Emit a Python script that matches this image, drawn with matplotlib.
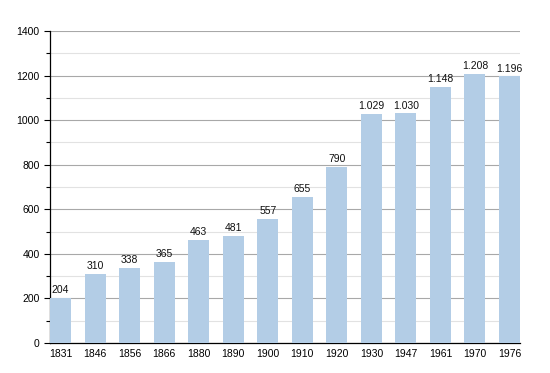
import matplotlib
matplotlib.use("Agg")
import matplotlib.pyplot as plt
from matplotlib.ticker import MultipleLocator

years = ["1831", "1846", "1856", "1866", "1880", "1890", "1900", "1910",
         "1920", "1930", "1947", "1961", "1970", "1976"]
population = [204, 310, 338, 365, 463, 481, 557, 655, 790, 1029, 1030,
              1148, 1208, 1196]
value_labels = ["204", "310", "338", "365", "463", "481", "557", "655",
                "790", "1.029", "1.030", "1.148", "1.208", "1.196"]

plt.rcParams['font.family'] = ['Liberation Sans', 'DejaVu Sans']

fig = plt.figure(figsize=(5.5, 3.73), dpi=100)
ax = fig.add_axes([50/550, 1-343/373, 470/550, 312/373])

x = list(range(len(years)))
w = 0.61
bars = ax.bar(x, population, width=w, color="#b3cde6", zorder=3)
for xi, v, lab in zip(x, population, value_labels):
    ax.text(xi, v + 12, lab, ha="center", va="bottom", fontsize=7.5, color="#111111", zorder=4)

ax.set_xlim(-w/2, len(years) - 1 + w/2)
ax.set_ylim(0, 1400)
ax.set_xticks(x)
ax.set_xticklabels(years, fontsize=7.5)
ax.yaxis.set_major_locator(MultipleLocator(200))
ax.yaxis.set_minor_locator(MultipleLocator(100))
ax.tick_params(axis="y", labelsize=7.5, length=4, width=0.8, direction="out")
ax.tick_params(axis="y", which="minor", length=3, width=0.8)
ax.tick_params(axis="x", length=0, pad=4)
ax.grid(axis="y", which="major", color="#a8a8a8", linewidth=0.8, zorder=1)
ax.grid(axis="y", which="minor", color="#e2e2e2", linewidth=0.8, zorder=1)
for s in ["top", "right"]:
    ax.spines[s].set_visible(False)
ax.spines["left"].set_linewidth(0.9)
ax.spines["bottom"].set_linewidth(0.9)

fig.savefig("out.png", dpi=100)
